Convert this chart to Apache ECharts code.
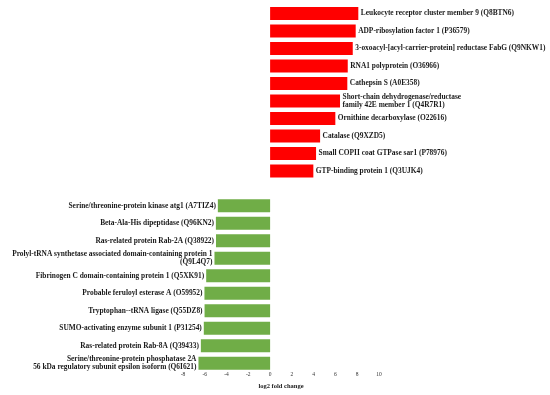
<!DOCTYPE html>
<html>
<head>
<meta charset="utf-8">
<script src="https://cdn.jsdelivr.net/npm/echarts@6/dist/echarts.min.js"></script>
<style>
html,body{margin:0;padding:0;background:#fff;}
#chart{width:550px;height:395px;}
</style>
</head>
<body>
<div id="chart"></div>
<script>
const upProteins = [
  'Leukocyte receptor cluster member 9 (Q8BTN6)',
  'ADP-ribosylation factor 1 (P36579)',
  '3-oxoacyl-[acyl-carrier-protein] reductase FabG (Q9NKW1)',
  'RNA1 polyprotein (O36966)',
  'Cathepsin S (A0E358)',
  'Short-chain dehydrogenase/reductase\nfamily 42E member 1 (Q4R7R1)',
  'Ornithine decarboxylase (O22616)',
  'Catalase (Q9XZD5)',
  'Small COPII coat GTPase sar1 (P78976)',
  'GTP-binding protein 1 (Q3UJK4)'
];
const upValues = [8.1, 7.86, 7.59, 7.13, 7.09, 6.42, 5.99, 4.59, 4.22, 3.97];

const downProteins = [
  'Serine/threonine-protein kinase atg1 (A7TIZ4)',
  'Beta-Ala-His dipeptidase (Q96KN2)',
  'Ras-related protein Rab-2A (Q38922)',
  'Prolyl-tRNA synthetase associated domain-containing protein 1\n(Q9L4Q7)',
  'Fibrinogen C domain-containing protein 1 (Q5XK91)',
  'Probable feruloyl esterase A (O59952)',
  'Tryptophan--tRNA ligase (Q55DZ8)',
  'SUMO-activating enzyme subunit 1 (P31254)',
  'Ras-related protein Rab-8A (Q39433)',
  'Serine/threonine-protein phosphatase 2A\n56 kDa regulatory subunit epsilon isoform (Q6I621)'
];
const downValues = [-4.8, -4.98, -4.97, -5.11, -5.87, -6.03, -6.02, -6.09, -6.36, -6.58];

const xMin = -8, xMax = 10, xStep = 2;

const categories = [...upProteins, ' ', ...downProteins];
const gapCount = 1;
const upSeries = [...upValues, ...Array(gapCount + downValues.length).fill('-')];
const downSeries = [...Array(upValues.length + gapCount).fill('-'), ...downValues];

const serif = '"Liberation Serif", "DejaVu Serif", serif';

const chart = echarts.init(document.getElementById('chart'), null, {renderer: 'canvas'});
chart.setOption({
  animation: false,
  grid: {left: 183, right: 171, top: 4.75, bottom: 23, containLabel: false},
  xAxis: {
    type: 'value', min: xMin, max: xMax, interval: xStep,
    splitLine: {show: false},
    axisLine: {show: false},
    axisTick: {show: false},
    axisLabel: {fontFamily: serif, fontSize: 5.5, color: '#333', margin: 0},
    name: 'log2 fold change',
    nameLocation: 'middle',
    nameGap: 10,
    nameTextStyle: {fontFamily: serif, fontSize: 6.5, fontWeight: 'bold', color: '#222'}
  },
  yAxis: {
    type: 'category', data: categories, inverse: true,
    axisLine: {show: false}, axisTick: {show: false}, axisLabel: {show: false},
    splitLine: {show: false}
  },
  series: [
    {
      type: 'bar', data: upSeries, barWidth: 13, barGap: '-100%',
      itemStyle: {color: '#FF0000'},
      label: {
        show: true, position: 'right', distance: 2.5,
        formatter: p => p.name,
        fontFamily: serif, fontSize: 7.4, fontWeight: 'bold', color: '#1a1a1a', lineHeight: 7.8
      }
    },
    {
      type: 'bar', data: downSeries, barWidth: 13, barGap: '-100%',
      itemStyle: {color: '#70AD47'},
      label: {
        show: true, position: 'left', distance: 2,
        formatter: p => p.name,
        fontFamily: serif, fontSize: 7.4, fontWeight: 'bold', color: '#1a1a1a', lineHeight: 7.8
      }
    }
  ]
});
</script>
</body>
</html>
